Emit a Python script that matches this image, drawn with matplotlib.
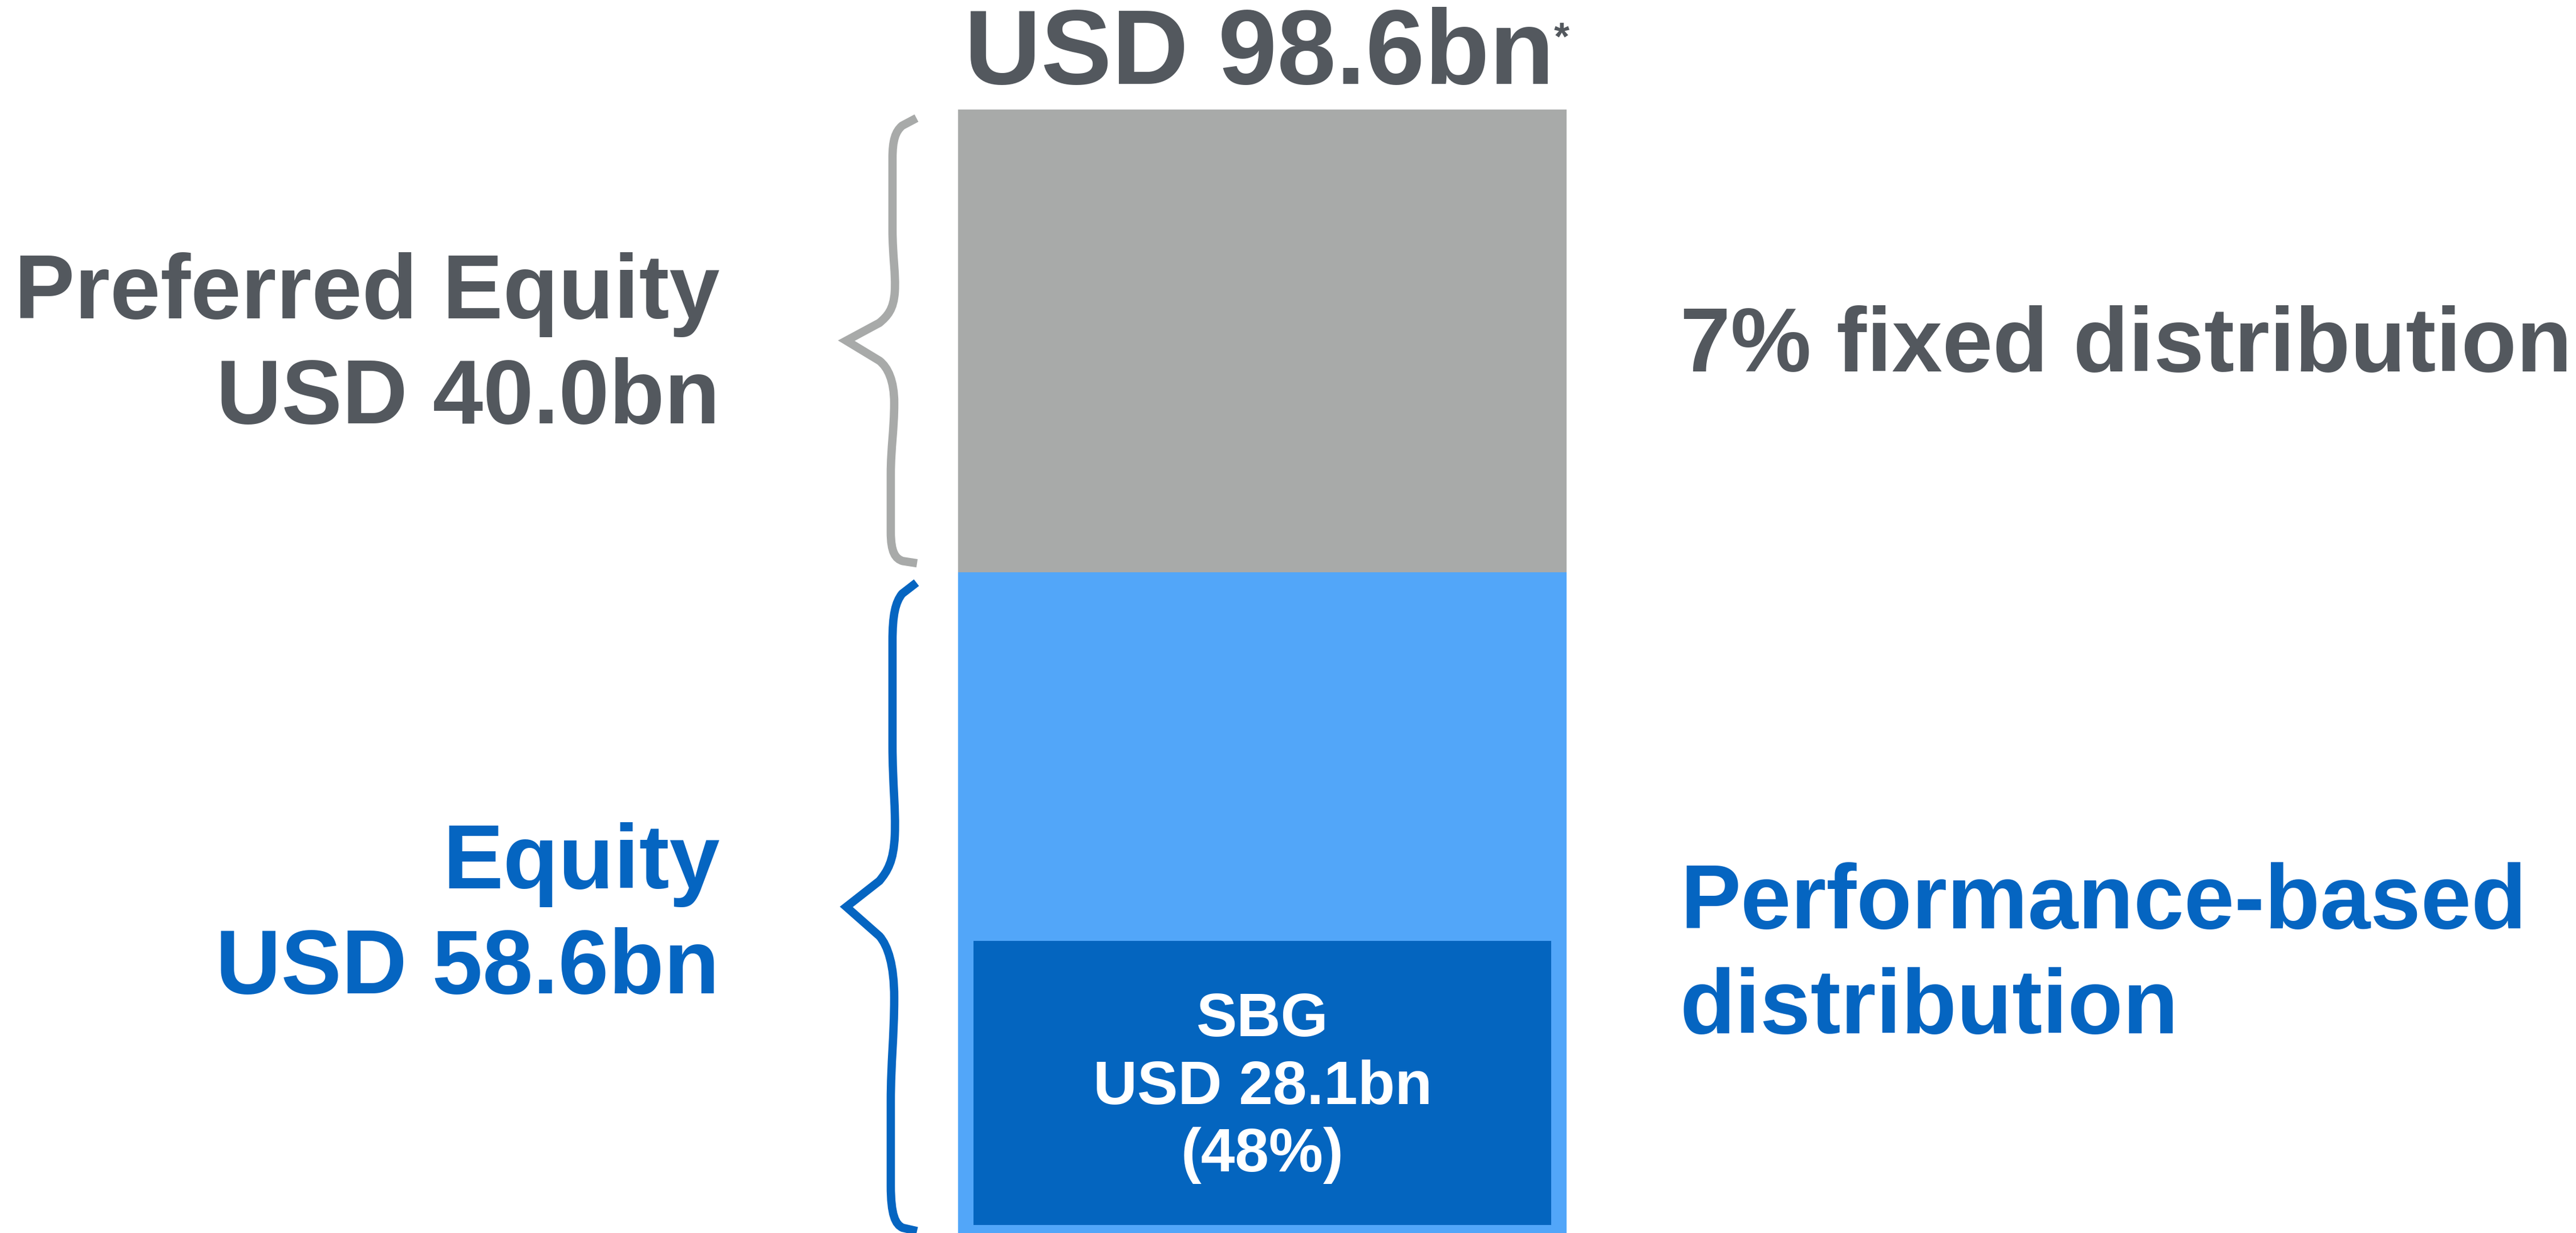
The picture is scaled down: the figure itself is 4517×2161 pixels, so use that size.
import numpy as np
import matplotlib.pyplot as plt
from matplotlib.path import Path
from matplotlib.patches import PathPatch

# data (bottom -> top)
segment_names = ['Equity', 'Preferred Equity']
segment_values = [58.6, 40.0]
segment_labels = ['USD 58.6bn', 'USD 40.0bn']
distribution = [['Performance-based', 'distribution'], ['7% fixed distribution']]
total_label = 'USD 98.6bn'
sbg_value = 28.1
sbg_lines = ['SBG', 'USD 28.1bn', '(48%)']

GREY_TXT = '#53585e'
BLUE_TXT = '#0565c1'
GREY_BAR = '#a8aaa9'
LIGHT_BLUE = '#52a6f9'
DARK_BLUE = '#0465bf'
FONT = 'Liberation Sans'

W, H, DPI = 4517, 2161, 100
fig = plt.figure(figsize=(W / DPI, H / DPI), dpi=DPI)
ax = fig.add_axes([0, 0, 1, 1])
ax.axis('off')

total = sum(segment_values)
BAR_TOP = 192      # px from top of figure
PPB = 20.28        # px per bn
BAR_X, BAR_W = 2213, 1067

def px(p):
    return p / PPB

ax.set_xlim(0, W)
ax.set_ylim(total - px(H - BAR_TOP), total + px(BAR_TOP))

bottoms = np.cumsum([0] + segment_values[:-1])
mids = bottoms + np.array(segment_values) / 2
ax.bar([BAR_X] * 2, segment_values, bottom=bottoms, width=BAR_W,
       color=[LIGHT_BLUE, GREY_BAR], linewidth=0)

# SBG box inside the equity part
pad = 27
ax.bar(BAR_X, sbg_value - px(pad) - px(45), bottom=px(45), width=BAR_W - 2 * pad,
       color=DARK_BLUE, linewidth=0)

# braces
brace_tpl = [
    ((1607, 0.0), Path.MOVETO),
    ((1582, 0.017), Path.LINETO),
    ((1570, 0.03), Path.CURVE4), ((1565, 0.05), Path.CURVE4), ((1565, 0.09), Path.CURVE4),
    ((1565, 0.25), Path.LINETO),
    ((1565, 0.31), Path.CURVE4), ((1571, 0.35), Path.CURVE4), ((1569, 0.39), Path.CURVE4),
    ((1567, 0.43), Path.CURVE4), ((1556, 0.445), Path.CURVE4), ((1542, 0.46), Path.CURVE4),
    ((1484, 0.5), Path.LINETO),
    ((1542, 0.545), Path.LINETO),
    ((1557, 0.56), Path.CURVE4), ((1568, 0.59), Path.CURVE4), ((1568, 0.64), Path.CURVE4),
    ((1568, 0.70), Path.CURVE4), ((1562, 0.74), Path.CURVE4), ((1562, 0.80), Path.CURVE4),
    ((1562, 0.93), Path.LINETO),
    ((1562, 0.975), Path.CURVE4), ((1570, 0.99), Path.CURVE4), ((1583, 0.995), Path.CURVE4),
    ((1608, 1.0), Path.LINETO),
]

def brace(lo, hi, color, gap_top=16, gap_bot=16):
    top, bot = hi - px(gap_top), lo + px(gap_bot)
    verts = [(x, top - t * (top - bot)) for (x, t), _ in brace_tpl]
    codes = [c for _, c in brace_tpl]
    ax.add_patch(PathPatch(Path(verts, codes), fill=False, edgecolor=color,
                           lw=10.5, capstyle='butt', joinstyle='miter'))

brace(bottoms[0], bottoms[0] + segment_values[0], BLUE_TXT, gap_top=18, gap_bot=34)
brace(bottoms[1], bottoms[1] + segment_values[1], GREY_BAR, gap_top=15, gap_bot=16)

big = dict(family=FONT, weight='bold', fontsize=114.5, va='baseline')

# left labels
for name, lab, mid, col in zip(segment_names, segment_labels, mids, [BLUE_TXT, GREY_TXT]):
    ax.text(1262, mid + px(40), name, ha='right', color=col, **big)
    ax.text(1262, mid - px(144), lab, ha='right', color=col, **big)

# right labels
ax.text(2946, mids[1] - px(53), distribution[1][0], ha='left', color=GREY_TXT, **big)
ax.text(2946, mids[0] - px(30), distribution[0][0], ha='left', color=BLUE_TXT, **big)
ax.text(2946, mids[0] - px(214), distribution[0][1], ha='left', color=BLUE_TXT, **big)

# total on top
ax.text(2208, total + px(BAR_TOP - 147), total_label, ha='center', va='baseline',
        family=FONT, weight='bold', fontsize=134, color=GREY_TXT)
ax.text(2725, total + px(BAR_TOP - 36), '*', ha='left', va='top',
        family=FONT, weight='bold', fontsize=50, color=GREY_TXT)

# SBG text
sbg_mid = sbg_value / 2
for line, off in zip(sbg_lines, [91, -28, -146]):
    ax.text(2214, sbg_mid + px(off), line, ha='center', va='baseline',
            family=FONT, weight='bold', fontsize=77, color='white')

fig.savefig('out.png', dpi=DPI, facecolor='white')
